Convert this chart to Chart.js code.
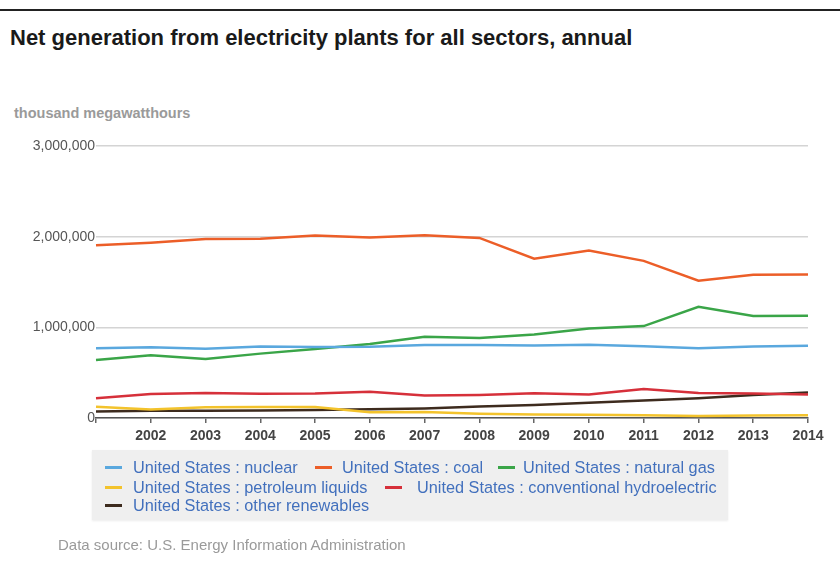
<!DOCTYPE html>
<html>
<head>
<meta charset="utf-8">
<script src="https://cdn.jsdelivr.net/npm/chart.js@4/dist/chart.umd.min.js"></script>
<style>
    body { margin: 0; background: #fff; font-family: "Liberation Sans", Arial, sans-serif; }
    #wrap { position: relative; width: 840px; height: 567px; overflow: hidden; }
    #topline { position: absolute; left: 0; top: 9px; width: 840px; height: 2px; background: #222; }
    #title { position: absolute; left: 10px; top: 27px; font-size: 22px; line-height: 1; font-weight: bold; color: #1a1a1a; }
    #unit { position: absolute; left: 14px; top: 106px; font-size: 14.5px; line-height: 1; font-weight: bold; color: #9a9a9a; }
    #myChart { position: absolute; left: 0; top: 0; }
    #legend { position: absolute; left: 92px; top: 450px; width: 636px; height: 70px; background: #efefef;
              box-shadow: 0 1px 2px rgba(0,0,0,0.08); }
    .mark { position: absolute; width: 17px; height: 3px; }
    .txt { position: absolute; font-size: 16.3px; line-height: 1; color: #4270bd; white-space: nowrap; }
    #source { position: absolute; left: 58px; top: 537px; font-size: 15px; line-height: 1; color: #9a9a9a; }
</style>
</head>
<body>
<div id="wrap">
    <div id="topline"></div>
    <div id="title">Net generation from electricity plants for all sectors, annual</div>
    <div id="unit">thousand megawatthours</div>
    <canvas id="myChart" width="840" height="567"></canvas>
    <div id="legend"></div>
    <div id="source">Data source: U.S. Energy Information Administration</div>
</div>
<script>
    var years = ["2001", "2002", "2003", "2004", "2005", "2006", "2007", "2008", "2009", "2010", "2011", "2012", "2013", "2014"]

    var nuclear = [769000, 780000, 764000, 789000, 782000, 787000, 806000, 806000, 799000, 807000, 790000, 769000, 789000, 797000]
    var coal = [1904000, 1933000, 1974000, 1978000, 2013000, 1991000, 2016000, 1986000, 1756000, 1847000, 1733000, 1514000, 1581000, 1582000]
    var naturalGas = [639000, 691000, 650000, 710000, 761000, 816000, 897000, 883000, 921000, 988000, 1014000, 1226000, 1125000, 1127000]
    var petroleum = [125000, 95000, 119000, 121000, 122000, 64000, 66000, 46000, 39000, 37000, 30000, 23000, 27000, 30000]
    var hydro = [217000, 264000, 276000, 268000, 270000, 289000, 248000, 255000, 273000, 260000, 319000, 276000, 269000, 259000]
    var otherRenew = [71000, 79000, 79000, 83000, 87000, 97000, 105000, 126000, 144000, 167000, 194000, 218000, 253000, 280000]

    var yTicks = [0, 1000000, 2000000, 3000000]

    var series = [
        { label: "United States : nuclear", data: nuclear, color: "#5aa8de" },
        { label: "United States : coal", data: coal, color: "#ec5e28" },
        { label: "United States : natural gas", data: naturalGas, color: "#3aa548" },
        { label: "United States : petroleum liquids", data: petroleum, color: "#f3c32c" },
        { label: "United States : conventional hydroelectric", data: hydro, color: "#d6303a" },
        { label: "United States : other renewables", data: otherRenew, color: "#3d2b1e" }
    ]

    // where each legend entry sits inside the grey box (marker x, text x, row y)
    var legendPos = [[13, 41, 17], [223, 250, 17], [406, 431, 17], [13, 41, 37], [293, 325, 37], [13, 41, 55]]
    var legend = document.getElementById("legend")
    series.forEach(function(s, i) {
        var p = legendPos[i]
        var m = document.createElement("span")
        m.className = "mark"
        m.style.left = p[0] + "px"
        m.style.top = (p[2] - 1) + "px"
        m.style.background = s.color
        legend.appendChild(m)
        var t = document.createElement("span")
        t.className = "txt"
        t.style.left = p[1] + "px"
        t.style.top = (p[2] - 8) + "px"
        t.textContent = s.label
        legend.appendChild(t)
    })

    var datasets = series.map(function(s) {
        return {
            label: s.label,
            data: s.data,
            borderColor: s.color,
            backgroundColor: s.color,
            borderWidth: 2.5,
            pointRadius: 0,
            tension: 0,
            fill: false
        }
    })

    var ctx = document.getElementById("myChart").getContext('2d')

    var chart = new Chart(ctx, {
        type: 'line',
        data: {
            labels: years,
            datasets: datasets
        },
        options: {
            responsive: false,
            animation: false,
            layout: { padding: { left: 0, right: 32, top: 146, bottom: 119 } },
            plugins: {
                legend: { display: false },
                tooltip: { enabled: false }
            },
            scales: {
                x: {
                    type: 'category',
                    offset: false,
                    afterFit: function(scale) { scale.height = 30 },
                    border: { display: true, color: "#555", width: 1.5 },
                    grid: { drawOnChartArea: false, drawTicks: true, tickLength: 5, color: "#666", lineWidth: 1.5 },
                    ticks: {
                        autoSkip: false,
                        maxRotation: 0,
                        padding: 5,
                        color: "#444",
                        font: { family: "Liberation Sans, Arial", size: 14, weight: "bold" },
                        callback: function(v, i) { return i === 0 ? "" : years[i] }
                    }
                },
                y: {
                    min: 0,
                    max: 3000000,
                    afterFit: function(scale) { scale.width = 96 },
                    afterBuildTicks: function(scale) {
                        scale.ticks = yTicks.map(function(v) { return { value: v } })
                    },
                    border: { display: false },
                    grid: { color: "#d4d4d4", lineWidth: 1.5, drawTicks: false },
                    ticks: {
                        padding: 1,
                        color: "#555",
                        font: { family: "Liberation Sans, Arial", size: 14 },
                        callback: function(v) { return v.toLocaleString("en-US") }
                    }
                }
            }
        }
    })
</script>
</body>
</html>
